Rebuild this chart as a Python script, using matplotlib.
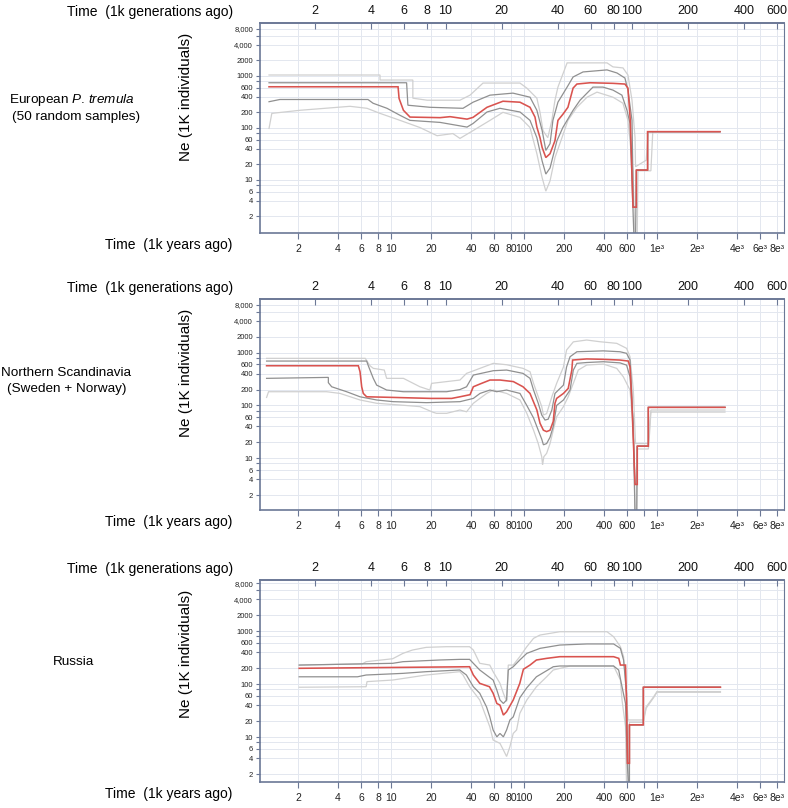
import matplotlib
matplotlib.use("Agg")
import matplotlib.pyplot as plt
from matplotlib.ticker import FixedLocator, FixedFormatter, NullLocator

plt.rcParams["mathtext.fontset"] = "custom"
plt.rcParams["mathtext.it"] = "Liberation Sans:italic"
plt.rcParams["mathtext.rm"] = "Liberation Sans"

# ---------------- data (years in 1k years ago, Ne in 1K individuals) ----------------
# European P. tremula
eu_med_yr = [1.21, 11.3, 11.5, 12.4, 13.9, 23.4, 27.8, 37.3, 41.4, 52.7, 69.5, 93.3, 111, 121, 125, 132, 137, 146,
             157, 171, 180, 196, 214, 234, 250, 314, 467, 574, 605, 630, 660, 700, 700, 850, 850, 2977]
eu_med_ne = [620, 620, 370, 219, 162, 158, 165, 148, 160, 250, 327, 313, 250, 162, 104, 65, 42, 27,
             32, 57, 140, 183, 250, 585, 700, 741, 722, 700, 585, 140, 3.0, 3.0, 15.5, 15.5, 85, 85]
eu_up_yr = [1.21, 13.1, 13.4, 19.6, 34.8, 41.4, 55.5, 82.6, 111, 125, 137, 146, 157, 165, 180, 211, 234, 278,
            421, 500, 574, 605, 649, 665, 700, 700, 850, 850, 2977]
eu_up_ne = [741, 741, 274, 250, 239, 313, 428, 468, 391, 219, 89, 37, 50, 140, 313, 611, 957, 1196,
            1309, 1143, 914, 535, 140, 3.0, 3.0, 15.5, 15.5, 85, 85]
eu_lo_yr = [1.21, 1.46, 6.71, 7.33, 9.33, 11.7, 13.9, 23.4, 37.3, 41.4, 52.7, 66, 93.3, 111, 125, 137, 146, 157,
            177, 196, 234, 264, 330, 393, 467, 545, 595, 627, 671, 690, 700, 850, 850, 2977]
eu_lo_ne = [320, 353, 353, 299, 239, 175, 140, 128, 104, 122, 203, 239, 203, 140, 65, 23, 13, 17,
            57, 102, 219, 342, 611, 611, 535, 428, 219, 122, 0.8, 0.8, 15.5, 15.5, 85, 85]
eu_hi_yr = [1.21, 8.27, 8.27, 14.6, 14.6, 18.7, 33.0, 39.3, 49.2, 93.3, 105, 125, 132, 139, 151, 162, 171, 180,
            211, 421, 467, 555, 605, 649, 684, 690, 830, 860, 2977]
eu_hi_ne = [1045, 1045, 836, 836, 374, 342, 342, 428, 731, 731, 585, 374, 200, 89, 65, 140, 342, 611,
            1787, 1787, 1496, 1430, 1045, 342, 65, 18, 24, 85, 85]
eu_lw_yr = [1.21, 1.27, 2.07, 4.92, 6.60, 8.27, 11.7, 16.5, 22.2, 29.2, 33.0, 41.4, 55.5, 69.5, 93.3, 111, 125,
            137, 146, 157, 171, 193, 214, 250, 298, 354, 467, 555, 605, 660, 684, 710, 720, 900, 930, 2977]
eu_lw_ne = [98, 191, 219, 261, 239, 191, 140, 102, 71, 78, 63, 89, 140, 200, 160, 102, 32,
            11, 6.1, 9.6, 27, 65, 140, 250, 391, 489, 391, 299, 140, 15, 0.8, 0.8, 15, 15, 85, 85]

# Northern Scandinavia
sc_med_yr = [1.16, 5.68, 5.85, 6.02, 6.19, 6.56, 10.4, 20.0, 28.6, 33.0, 39.3, 41.6, 46.7, 55.5, 66.0, 83.2,
             98.3, 111, 125, 132, 140, 148, 157, 166, 171, 176, 198, 215, 229, 232, 296, 395, 527, 609, 627,
             645, 684, 711, 711, 861, 861, 3245]
sc_med_ne = [565, 565, 435, 226, 169, 146, 142, 136, 136, 146, 160, 226, 255, 303, 303, 283,
             226, 169, 82, 46, 34, 32, 34, 50, 110, 136, 169, 210, 468, 724, 760, 747, 724, 693, 535,
             146, 3.2, 3.2, 17, 17, 92, 92]
sc_up_yr = [1.16, 6.56, 6.75, 7.36, 7.80, 9.27, 12.4, 26.2, 33.0, 37.0, 41.6, 58.8, 74.0, 98.3, 111, 118, 128,
            136, 144, 152, 162, 171, 198, 209, 222, 250, 395, 527, 591, 627, 645, 684, 711, 711, 861, 861, 3245]
sc_up_ne = [693, 693, 565, 326, 243, 196, 182, 182, 200, 226, 376, 455, 468, 405, 326, 196, 110,
            66, 53, 55, 82, 169, 243, 535, 836, 1040, 1080, 1040, 970, 724, 196, 3.2, 3.2, 17, 17, 92, 92]
sc_lo_yr = [1.16, 3.38, 3.38, 3.58, 4.64, 5.85, 7.80, 10.4, 18.5, 33.0, 41.6, 46.7, 55.5, 62.3, 74.0, 93.3,
            105, 118, 128, 136, 140, 148, 157, 166, 176, 198, 222, 235, 250, 296, 395, 527, 591, 627, 664,
            684, 705, 711, 861, 861, 3245]
sc_lo_ne = [326, 340, 270, 226, 182, 146, 127, 118, 113, 118, 136, 169, 196, 182, 196, 169,
            100, 58, 34, 23, 18, 19, 25, 40, 100, 127, 196, 468, 627, 650, 673, 640, 580, 350, 46,
            0.8, 0.8, 17, 17, 92, 92]
sc_hi_yr = [1.16, 6.4, 6.95, 7.36, 8.9, 9.27, 12.4, 16.5, 19.6, 20.2, 33.0, 37.0, 58.8, 74.0, 98.3, 111, 118,
            128, 136, 140, 148, 162, 176, 198, 209, 235, 296, 373, 498, 591, 627, 664, 690, 861, 880, 900, 3245]
sc_hi_ne = [780, 780, 565, 504, 468, 326, 326, 226, 196, 262, 303, 405, 627, 590, 504, 435, 262,
            146, 95, 66, 70, 146, 262, 535, 1120, 1600, 1733, 1608, 1500, 1206, 836, 196, 19, 19, 40, 82, 82]
sc_lw_yr = [1.16, 1.2, 3.28, 4.14, 5.85, 7.8, 11.7, 16.5, 20.8, 22.0, 26.2, 33.0, 37.0, 41.6, 52.4, 58.8, 74.0,
            93.3, 105, 118, 128, 136, 138, 141, 148, 157, 166, 176, 198, 215, 235, 256, 296, 395, 498, 558,
            627, 664, 684, 700, 711, 861, 880, 900, 3245]
sc_lw_ne = [142, 182, 182, 169, 127, 110, 102, 95, 74, 71, 71, 82, 76, 110, 169, 196, 169,
            127, 71, 34, 19, 10.7, 7.5, 10.7, 12.4, 19, 34, 61, 95, 146, 262, 468, 582, 608, 504, 350,
            196, 34, 0.8, 0.8, 15, 15, 30, 75, 75]

# Russia
ru_med_yr = [2.04, 39, 41.6, 46.5, 55, 58.6, 62.5, 66, 70, 74, 83, 93, 99, 111, 124, 148, 186, 298, 472, 516,
             531, 580, 590, 600, 621, 621, 790, 790, 3000]
ru_med_ne = [198, 212, 148, 103, 89, 67, 43, 40, 26, 30, 50, 103, 190, 228, 284, 305, 328, 328, 328, 305,
             228, 228, 50, 3.2, 3.2, 17, 17, 87, 87]
ru_up_yr = [2.04, 10.3, 12.3, 23.2, 32.9, 39, 41.6, 46.5, 58.6, 62.5, 66, 70, 74, 76.2, 83, 93, 105, 132, 186,
            298, 472, 531, 561, 590, 600, 621, 621, 790, 790, 3000]
ru_up_ne = [228, 246, 264, 284, 292, 292, 246, 184, 119, 77, 50, 43, 50, 184, 212, 284, 379, 471, 544,
            570, 570, 471, 284, 67, 3.2, 3.2, 17, 17, 87, 87]
ru_lo_yr = [2.04, 5.6, 6.5, 12.3, 18.4, 32.9, 36.9, 41.6, 46.5, 52.3, 55.3, 58.6, 62.5, 66, 70, 74, 78.4, 83,
            93, 105, 124, 166, 186, 472, 515, 546, 580, 600, 610, 621, 621, 790, 790, 3000]
ru_lo_ne = [137, 137, 148, 159, 171, 184, 148, 89, 67, 37, 24, 13.6, 10.1, 11.7, 10.1, 13.6, 21, 24,
            55, 85, 137, 212, 219, 219, 184, 89, 43, 2.75, 1.3, 1.3, 17, 17, 87, 87]
ru_hi_yr = [2.04, 6.1, 6.5, 10.3, 12.3, 14.5, 18.4, 26, 39, 41.6, 46.5, 55.3, 58.6, 66, 70, 74, 76.2, 83, 93,
            105, 118, 132, 186, 298, 421, 472, 531, 561, 590, 605, 621, 790, 829, 942, 1000, 3000]
ru_hi_ne = [228, 240, 264, 300, 379, 438, 492, 506, 506, 438, 246, 228, 171, 103, 67, 47, 228, 228, 328,
            506, 728, 840, 970, 970, 970, 781, 506, 328, 67, 21, 21, 21, 37, 57, 72, 72]
ru_lw_yr = [2.04, 6.5, 6.6, 10.3, 18.4, 32.9, 34.8, 39, 46.5, 55.3, 58.6, 66, 70, 74, 78.4, 83, 88, 93, 105,
            124, 148, 166, 222, 472, 531, 546, 580, 590, 610, 621, 790, 829, 942, 1000, 3000]
ru_lw_ne = [87, 89, 111, 119, 148, 171, 148, 89, 50, 15.7, 8.8, 7.6, 5.7, 4.3, 6.6, 11.7, 13.6, 28, 50,
            89, 137, 184, 219, 219, 119, 50, 15.7, 1.3, 1.3, 19, 19, 35, 55, 70, 70]

# axis ticks
year_ticks = [2, 4, 6, 8, 10, 20, 40, 60, 80, 100, 200, 400, 600, 800, 1000, 2000, 4000, 6000, 8000]
year_labels = ["2", "4", "6", "8", "10", "20", "40", "60", "80", "100", "200", "400", "600", "",
               "1e\u00b3", "2e\u00b3", "4e\u00b3", "6e\u00b3", "8e\u00b3"]
gen_ticks = [2, 4, 6, 8, 10, 20, 40, 60, 80, 100, 200, 400, 600]
gen_labels = ["2", "4", "6", "8", "10", "20", "40", "60", "80", "100", "200", "400", "600"]
ne_ticks = [2, 4, 6, 8, 10, 20, 40, 60, 80, 100, 200, 400, 600, 800, 1000, 2000, 4000, 6000, 8000]
ne_labels = ["2", "4", "6", "", "10", "20", "40", "60", "", "100", "200", "400", "600", "",
             "1000", "2000", "4,000", "", "8,000"]

panel_names = [["European $\\mathit{P.\\,tremula}$", "(50 random samples)"],
               ["Northern Scandinavia", "(Sweden + Norway)"],
               ["Russia"]]

# ---------------- figure ----------------
W, H = 788, 808
fig = plt.figure(figsize=(W / 100, H / 100), dpi=100)

SANS = ["Liberation Sans", "DejaVu Sans"]
NARROW = ["Liberation Sans Narrow", "Liberation Sans", "DejaVu Sans"]
SPINE = "#6b7896"
GRID = "#e3e7ef"
RED = "#d9534f"
DARK = "#909090"
LIGHT = "#d0d0d0"


def px_axes(left, top, right, bottom):
    return fig.add_axes([left / W, 1 - bottom / H, (right - left) / W, (bottom - top) / H])


panels = [
    dict(top=23, bottom=233, ylim=(0.955, 10450), label_y=[100, 117], label_x=[72, 76],
         data=[(eu_lw_yr, eu_lw_ne, LIGHT), (eu_hi_yr, eu_hi_ne, LIGHT),
               (eu_lo_yr, eu_lo_ne, DARK), (eu_up_yr, eu_up_ne, DARK), (eu_med_yr, eu_med_ne, RED)]),
    dict(top=299, bottom=510, ylim=(1.05, 10360), label_y=[373, 389], label_x=[66, 67],
         data=[(sc_lw_yr, sc_lw_ne, LIGHT), (sc_hi_yr, sc_hi_ne, LIGHT),
               (sc_lo_yr, sc_lo_ne, DARK), (sc_up_yr, sc_up_ne, DARK), (sc_med_yr, sc_med_ne, RED)]),
    dict(top=580, bottom=782, ylim=(1.42, 9170), label_y=[662], label_x=[73],
         data=[(ru_lw_yr, ru_lw_ne, LIGHT), (ru_hi_yr, ru_hi_ne, LIGHT),
               (ru_lo_yr, ru_lo_ne, DARK), (ru_up_yr, ru_up_ne, DARK), (ru_med_yr, ru_med_ne, RED)]),
]

LEFT, RIGHT = 260, 784

for i, p in enumerate(panels):
    ax = px_axes(LEFT, p["top"], RIGHT, p["bottom"])
    ax.set_xscale("log")
    ax.set_yscale("log")
    ax.set_xlim(1.035, 9020)
    ax.set_ylim(*p["ylim"])

    for xs, ys, c in p["data"]:
        lw = 1.15 if c == RED else 0.9
        ax.plot(xs, ys, color=c, lw=lw, solid_joinstyle="miter")

    ax.xaxis.set_major_locator(FixedLocator(year_ticks))
    ax.xaxis.set_major_formatter(FixedFormatter(year_labels))
    ax.xaxis.set_minor_locator(NullLocator())
    ax.yaxis.set_major_locator(FixedLocator(ne_ticks))
    ax.yaxis.set_major_formatter(FixedFormatter(ne_labels))
    ax.yaxis.set_minor_locator(NullLocator())
    ax.grid(True, which="major", color=GRID, lw=0.7)
    ax.set_axisbelow(True)

    ax.tick_params(axis="x", direction="out", length=4, width=0.8, color=SPINE, pad=4,
                   labelsize=7.5, labelcolor="#222222")
    ax.tick_params(axis="y", direction="out", length=3, width=0.8, color=SPINE, pad=2,
                   labelsize=5.5, labelcolor="#222222")
    for lab in ax.get_xticklabels() + ax.get_yticklabels():
        lab.set_fontfamily(NARROW)
    for side, sp in ax.spines.items():
        sp.set_color(SPINE)
        sp.set_linewidth(1.2 if side in ("left", "bottom", "top") else 0.8)

    axt = ax.twiny()
    axt.set_xscale("log")
    axt.set_xlim(10 ** ((LEFT - 259) / 186.5), 10 ** ((RIGHT - 259) / 186.5))
    axt.xaxis.set_major_locator(FixedLocator(gen_ticks))
    axt.xaxis.set_major_formatter(FixedFormatter(gen_labels))
    axt.xaxis.set_minor_locator(NullLocator())
    axt.tick_params(axis="x", direction="in", length=4, width=0.8, color=SPINE, pad=4,
                    labelsize=9, labelcolor="#111111")
    for lab in axt.get_xticklabels():
        lab.set_fontfamily(SANS)
    for side, sp in axt.spines.items():
        sp.set_visible(side == "top")
        sp.set_color(SPINE)
        sp.set_linewidth(1.2)

    fig.text(150 / W, 1 - (p["top"] - 11) / H, "Time  (1k generations ago)", ha="center", va="center",
             fontsize=10, family=SANS)
    fig.text(169 / W, 1 - (p["bottom"] + 12) / H, "Time  (1k years ago)", ha="center", va="center",
             fontsize=10, family=SANS)
    fig.text(186 / W, 1 - (p["top"] + 74) / H, "Ne (1K individuals)", ha="center", va="center",
             rotation=90, fontsize=11, family=SANS)
    for name, lx, ly in zip(panel_names[i], p["label_x"], p["label_y"]):
        fig.text(lx / W, 1 - ly / H, name, ha="center", va="center", fontsize=9.7, family=SANS)

fig.savefig("out.png", dpi=100, facecolor="white")
